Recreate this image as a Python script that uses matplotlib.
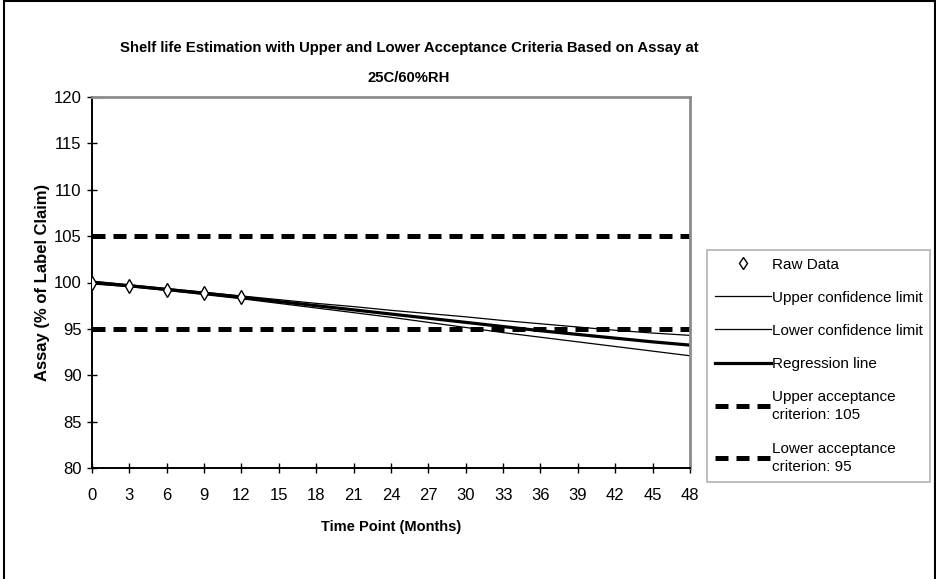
import matplotlib
matplotlib.use("Agg")
import matplotlib.pyplot as plt
from matplotlib.patches import Rectangle

plt.rcParams['font.family'] = ['Liberation Sans', 'DejaVu Sans']

months = [0, 3, 6, 9, 12, 15, 18, 21, 24, 27, 30, 33, 36, 39, 42, 45, 48]
raw_months = [0, 3, 6, 9, 12]
raw_assay = [100.0, 99.66, 99.2, 98.9, 98.4]
regression = [100.0, 99.65, 99.25, 98.85, 98.4, 97.95, 97.5, 97.05, 96.6, 96.15,
              95.7, 95.25, 94.8, 94.4, 94.0, 93.6, 93.25]
upper_cl = [100.15, 99.75, 99.35, 98.95, 98.55, 98.15, 97.75, 97.4, 97.0, 96.65,
            96.3, 95.9, 95.55, 95.2, 94.85, 94.55, 94.3]
lower_cl = [99.85, 99.55, 99.15, 98.7, 98.25, 97.75, 97.25, 96.75, 96.25, 95.7,
            95.15, 94.6, 94.1, 93.6, 93.1, 92.6, 92.1]
upper_acc = 105
lower_acc = 95
x_ticks = list(range(0, 49, 3))
y_ticks = list(range(80, 121, 5))

fig = plt.figure(figsize=(9.37, 5.79), dpi=100)
ax = fig.add_axes([92/937, 1-468/579, (690-92)/937, (468-97)/579])

ax.plot(raw_months, raw_assay, linestyle='none', marker='d', ms=7, mfc='white',
        mec='black', mew=1.0, label='Raw Data', zorder=5)
ax.plot(months, upper_cl, color='black', lw=0.9, label='Upper confidence limit')
ax.plot(months, lower_cl, color='black', lw=0.9, label='Lower confidence limit')
ax.plot(months, regression, color='black', lw=2.3, label='Regression line')
ax.plot([months[0], months[-1]], [upper_acc, upper_acc], color='black', lw=3.6,
        dashes=(2.6, 1.6), dash_capstyle='butt', label='Upper acceptance\ncriterion: 105')
ax.plot([months[0], months[-1]], [lower_acc, lower_acc], color='black', lw=3.6,
        dashes=(2.6, 1.6), dash_capstyle='butt', label='Lower acceptance\ncriterion: 95')

ax.set_xlim(0, 48)
ax.set_ylim(80, 120)
ax.set_xticks(x_ticks)
ax.set_yticks(y_ticks)
ax.tick_params(direction='inout', length=7, width=1, labelsize=12, pad=3)
ax.tick_params(axis='x', pad=11)
ax.tick_params(axis='y', pad=4)
for s in ['left', 'bottom']:
    ax.spines[s].set_color('black')
    ax.spines[s].set_linewidth(1.4)
for s in ['top', 'right']:
    ax.spines[s].set_color('#8c8c8c')
    ax.spines[s].set_linewidth(2.0)

ax.set_xlabel('Time Point (Months)', fontsize=10.5, fontweight='bold', labelpad=12)
ax.set_ylabel('Assay (% of Label Claim)', fontsize=12, fontweight='bold', labelpad=3)

fig.text(409/937, 1-63/579,
         'Shelf life Estimation with Upper and Lower Acceptance Criteria Based on Assay at\n25C/60%RH',
         ha='center', va='center', fontsize=10.7, fontweight='bold', linespacing=2.5)

leg = ax.legend(loc='upper left', bbox_to_anchor=(707/937, 1-250/579),
                bbox_transform=fig.transFigure, frameon=True, fancybox=False,
                edgecolor='#a0a0a0', fontsize=11, handlelength=3.7,
                handletextpad=0.05, labelspacing=1.25, borderaxespad=0,
                borderpad=0.5, markerscale=0.9)
leg.get_frame().set_linewidth(1.2)
for t in leg.get_texts():
    t.set_linespacing(1.4)
leg.get_frame().set_height(leg.get_frame().get_height())

fig.patches.append(Rectangle((4/937, -0.1), (935-4)/937, 1.1-1.5/579,
                             transform=fig.transFigure, fill=False,
                             edgecolor='black', lw=1.5))

fig.savefig('out.png', dpi=100, facecolor='white')
